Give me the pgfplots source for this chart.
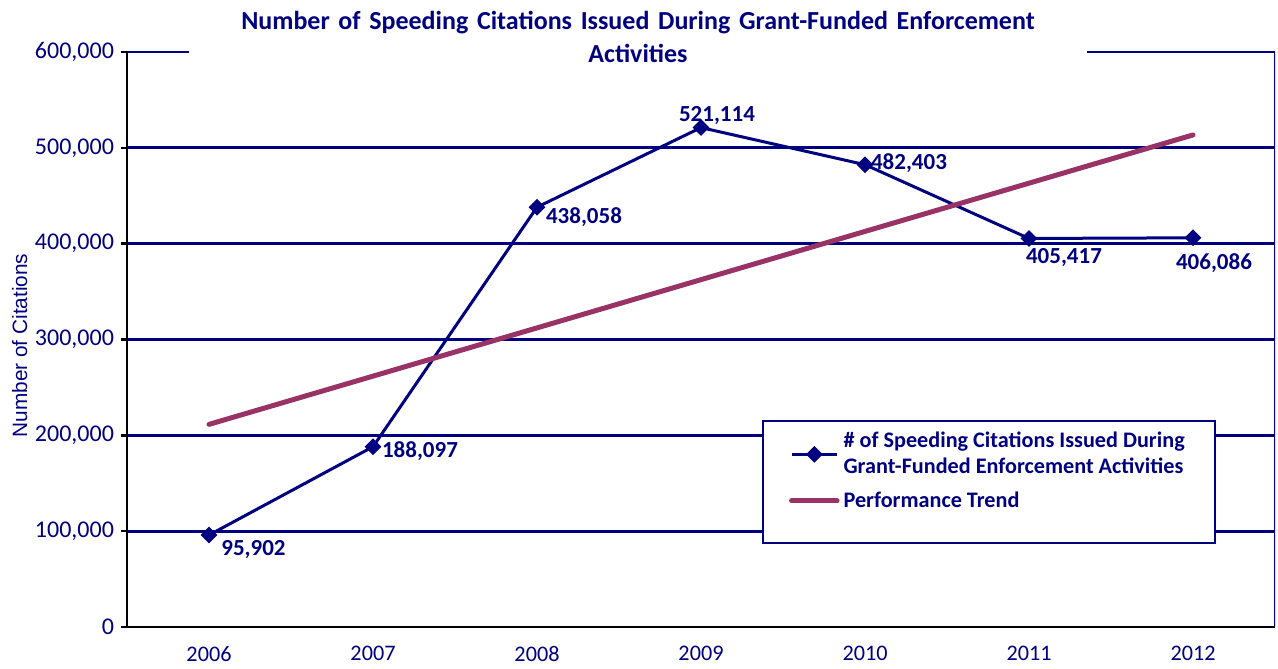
\documentclass[border=0pt]{standalone}
\usepackage{fontspec}
\setmainfont{Carlito}
\newfontfamily\arialfont{Liberation Sans}
\usepackage{pgfplots}
\usepackage{pgfplotstable}
\pgfplotsset{compat=1.18}
\definecolor{navyblue}{RGB}{0,0,128}
\definecolor{trendplum}{RGB}{153,51,102}

% data label: horizontal and vertical offset of its centre (pt), text
\newcommand{\lab}[3]{\raisebox{\dimexpr #2pt-3.7pt\relax}{\makebox[0pt]{\hspace*{#1pt}\hspace*{#1pt}#3}}}

\pgfplotstableread{
yr cites lbl
0 95902 \lab{22.25}{-6.5}{95,902}
1 188097 \lab{23.5}{-1.5}{188,097}
2 438058 \lab{23.5}{-4.5}{438,058}
3 521114 \lab{8}{6.5}{521,114}
4 482403 \lab{22}{1.5}{482,403}
5 405417 \lab{17.5}{-9}{405,417}
6 406086 \lab{10.5}{-12}{406,086}
}\citations

\pgfplotstableread{
yr trend
0 211418
6 513439
}\trendline

\begin{document}
\begin{tikzpicture}
\begin{axis}[
  scale only axis, width=574pt, height=287.5pt,
  xmin=-0.5, xmax=6.5, ymin=0, ymax=600000,
  axis x line=bottom, axis y line=left,
  axis line style={-, black, line width=1.4pt},
  tick align=outside,
  xtick={0,...,6},
  xticklabels={2006,2007,2008,2009,2010,2011,2012},
  xtick style={draw=none},
  minor xtick={-0.5,0.5,...,6.5},
  minor tick length=3pt,
  minor x tick style={black, line width=1.2pt},
  ytick={0,100000,200000,300000,400000,500000,600000},
  yticklabels={0,{100,000},{200,000},{300,000},{400,000},{500,000},{600,000}},
  major tick length=3pt,
  y tick style={black, line width=1.2pt},
  scaled y ticks=false,
  xticklabel style={font=\fontsize{11.1}{13}\selectfont, text=navyblue, yshift=-3pt},
  yticklabel style={font=\fontsize{12}{14}\selectfont, text=navyblue},
  ymajorgrids,
  major grid style={navyblue, line width=1.4pt},
  ylabel={Number of Citations},
  ylabel style={font=\arialfont\fontsize{10.4}{12}\selectfont, text=navyblue,
    yshift=-3pt, xshift=-3pt},
  legend style={at={(rel axis cs:0.5531,0.36)}, anchor=north west,
    draw=navyblue, line width=1.1pt, fill=white,
    font=\fontsize{11.1}{13}\selectfont\bfseries, text=navyblue,
    cells={align=left}, inner xsep=13pt, inner ysep=3.5pt, row sep=3.5pt},
  legend cell align=left,
  legend image code/.code={\draw[mark repeat=2, mark phase=2]
    plot coordinates {(0cm,0cm) (0.4cm,0cm) (0.8cm,0cm)};},
]
\addplot[navyblue, line width=1.5pt, mark=square*, mark size=2.2pt,
  mark options={solid, fill=navyblue, rotate=45},
  point meta=explicit symbolic,
  nodes near coords={\pgfplotspointmeta},
  every node near coord/.append style={anchor=base, inner sep=0pt,
    text=navyblue, font=\fontsize{11.5}{13}\selectfont\bfseries},
] table[x=yr, y=cites, meta=lbl] {\citations};
\addlegendentry{\# of Speeding Citations Issued During\\Grant-Funded Enforcement Activities}
\addplot[trendplum, line width=2.5pt, line cap=round] table[x=yr, y=trend] {\trendline};
\addlegendentry{Performance Trend}
\addlegendimage{empty legend}
\addlegendentry{\rule{0pt}{2pt}}
\coordinate (sw) at (rel axis cs:0,0);
\coordinate (nw) at (rel axis cs:0,1);
\coordinate (ne) at (rel axis cs:1,1);
\draw[navyblue, line width=1.4pt] (rel axis cs:1,0) -- (rel axis cs:1,1);
\end{axis}
\node[fill=white, inner sep=0pt, text width=449pt, align=center,
  font=\fontsize{13}{16.5}\selectfont\bfseries, text=navyblue,
  xshift=255.5pt, yshift=7.75pt] at (nw)
  {Number of Speeding Citations Issued During Grant-Funded Enforcement\\Activities};
\useasboundingbox ([xshift=-63.5pt, yshift=-21pt]sw) rectangle ([xshift=1.5pt, yshift=26pt]ne);
\end{tikzpicture}
\end{document}
